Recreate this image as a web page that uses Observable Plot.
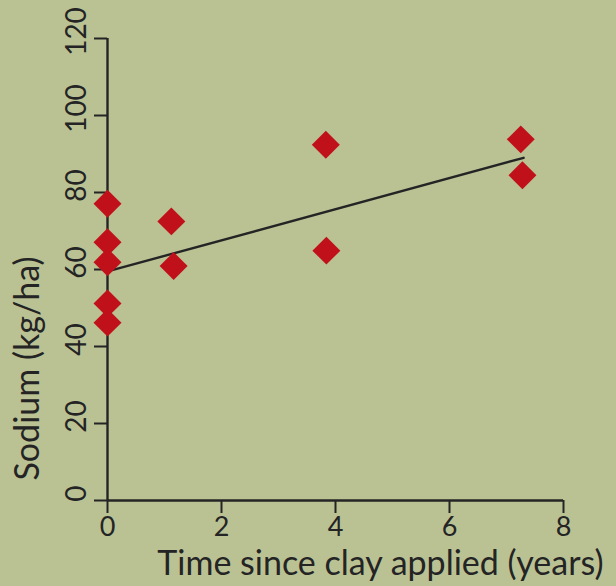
<!DOCTYPE html>
<html>
<head>
<meta charset="utf-8">
<script src="https://cdn.jsdelivr.net/npm/d3@7"></script>
<script src="https://cdn.jsdelivr.net/npm/@observablehq/plot@0.6"></script>
<style>
  html, body { margin: 0; padding: 0; background: #bac294; }
  #chart svg { display: block; }
</style>
</head>
<body>
<div id="chart"></div>
<script>
// Data
const years  = [0, 0, 0, 0, 0, 1.12, 1.16, 3.83, 3.84, 7.25, 7.28];
const sodium = [77.1, 67.1, 61.9, 51.2, 46.2, 72.5, 60.9, 92.4, 64.9, 93.8, 84.5];
const fitX = [0, 7.3];
const fitY = [59.5, 89.0];
const xTicks = [0, 2, 4, 6, 8];
const yTicks = [0, 20, 40, 60, 80, 100, 120];
const xTitle = "Time since clay applied (years)";
const yTitle = "Sodium (kg/ha)";

const points = years.map((x, i) => ({x, y: sodium[i]}));
const fit = fitX.map((x, i) => ({x, y: fitY[i]}));
const ink = "#242424";

const chart = Plot.plot({
  width: 616,
  height: 586,
  marginLeft: 107,
  marginRight: 53,
  marginTop: 38,
  marginBottom: 86,
  style: {background: "#bac294", fontFamily: "Lato, sans-serif", color: ink, overflow: "visible"},
  x: {domain: [0, 8]},
  y: {domain: [0, 120]},
  marks: [
    Plot.axisX({ticks: xTicks, tickSize: 13, tickPadding: 3, fontSize: 27, strokeWidth: 2, label: null, stroke: ink, fill: ink}),
    Plot.axisY({ticks: yTicks, tickSize: 13, tickFormat: () => "", strokeWidth: 2, label: null, stroke: ink}),
    Plot.axisY({ticks: yTicks, tickSize: 0, tickPadding: 22, tickRotate: -90, dy: -7, fontSize: 28, label: null, fill: ink}),
    Plot.ruleY([0], {stroke: ink, strokeWidth: 2.4}),
    Plot.ruleX([0], {stroke: ink, strokeWidth: 2.4}),
    Plot.line(fit, {x: "x", y: "y", stroke: ink, strokeWidth: 2.4}),
    Plot.dot(points, {x: "x", y: "y", symbol: "diamond2", r: 12.6, fill: "#c0111b", stroke: "none"}),
    Plot.text([xTitle], {frameAnchor: "bottom-right", text: d => d, textAnchor: "end", lineAnchor: "middle", dx: 40, dy: 64, fontSize: 34, fill: ink}),
    Plot.text([yTitle], {frameAnchor: "bottom-left", text: d => d, rotate: -90, textAnchor: "start", lineAnchor: "middle", dx: -79, dy: -20, fontSize: 34, fill: ink})
  ]
});
document.getElementById("chart").appendChild(chart);
</script>
</body>
</html>
